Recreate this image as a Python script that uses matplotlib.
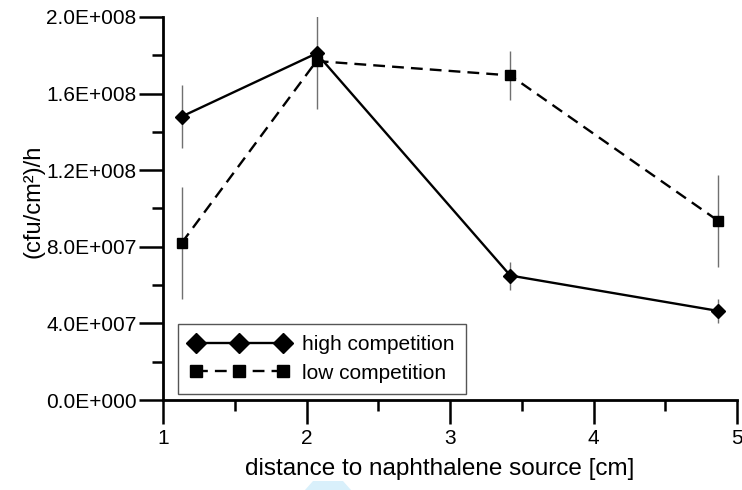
import matplotlib
matplotlib.use("Agg")
import matplotlib.pyplot as plt
from matplotlib.ticker import MultipleLocator, FuncFormatter
from matplotlib.patches import Polygon

plt.rcParams['font.family'] = ['Liberation Sans', 'DejaVu Sans']

# distance [cm] and colonisation rate (cfu/cm2)/h
distance = [1.13, 2.07, 3.42, 4.87]
high_comp = [1.48e8, 1.81e8, 0.65e8, 0.465e8]
high_err = [1.65e7, 0.0, 0.73e7, 0.63e7]
low_comp = [0.82e8, 1.77e8, 1.695e8, 0.935e8]
low_err = [2.9e7, 2.5e7, 1.28e7, 2.4e7]

series_labels = ["high competition", "low competition"]


def sci_fmt(v, pos):
    if v == 0:
        return "0.0E+000"
    exp = 0
    m = v
    while abs(m) >= 10:
        m /= 10.0
        exp += 1
    while abs(m) < 1:
        m *= 10.0
        exp -= 1
    return f"{m:.1f}E{'+' if exp >= 0 else '-'}{abs(exp):03d}"


fig = plt.figure(figsize=(7.42, 4.90), dpi=100)
ax = fig.add_axes([163 / 742, 1 - 400 / 490, 574 / 742, 383 / 490])

err_color = '#707070'
ax.errorbar(distance, high_comp, yerr=high_err, fmt='none', ecolor=err_color,
            elinewidth=1.0, capsize=0, zorder=1)
ax.errorbar(distance, low_comp, yerr=low_err, fmt='none', ecolor=err_color,
            elinewidth=1.0, capsize=0, zorder=1)

ax.plot(distance, high_comp, color='black', lw=1.7, marker='D', markersize=7.5,
        label=series_labels[0], zorder=3)
ax.plot(distance, low_comp, color='black', lw=1.7, ls=(0, (5, 3)), marker='s',
        markersize=6.5, label=series_labels[1], zorder=3)

ax.set_xlim(1, 5)
ax.set_ylim(0, 2.0e8)
ax.xaxis.set_major_locator(MultipleLocator(1))
ax.xaxis.set_minor_locator(MultipleLocator(0.5))
ax.yaxis.set_major_locator(MultipleLocator(4e7))
ax.yaxis.set_minor_locator(MultipleLocator(2e7))
ax.yaxis.set_major_formatter(FuncFormatter(sci_fmt))

for side in ['top', 'right']:
    ax.spines[side].set_visible(False)
for side in ['left', 'bottom']:
    ax.spines[side].set_linewidth(2.0)

ax.tick_params(which='major', length=17, width=1.8, labelsize=15)
ax.tick_params(which='minor', length=8, width=1.8)
ax.tick_params(axis='y', which='major', pad=2)
ax.tick_params(axis='x', which='major', pad=4)

ax.set_xlabel("distance to naphthalene source [cm]", fontsize=17.5)
ax.xaxis.set_label_coords(0.482, -0.151)
ax.set_ylabel("(cfu/cm²)/h", fontsize=17)
ax.yaxis.set_label_coords(-0.207, 0.52)

leg = ax.legend(loc='lower left', bbox_to_anchor=(15 / 574, 6 / 383), numpoints=3,
                handlelength=4.8, fontsize=15, fancybox=False, framealpha=1,
                edgecolor='#555555', markerscale=1.3, borderpad=0.55,
                borderaxespad=0, labelspacing=0.45, handletextpad=0.6)
leg.get_frame().set_linewidth(1.0)

# small light-blue shape at the lower edge
fig.patches.append(Polygon([[305 / 742, 0], [351 / 742, 0], [343 / 742, 9 / 490],
                            [313 / 742, 9 / 490]], closed=True,
                           transform=fig.transFigure, facecolor='#d9f0fb',
                           edgecolor='none'))

fig.savefig("out.png", dpi=100)
